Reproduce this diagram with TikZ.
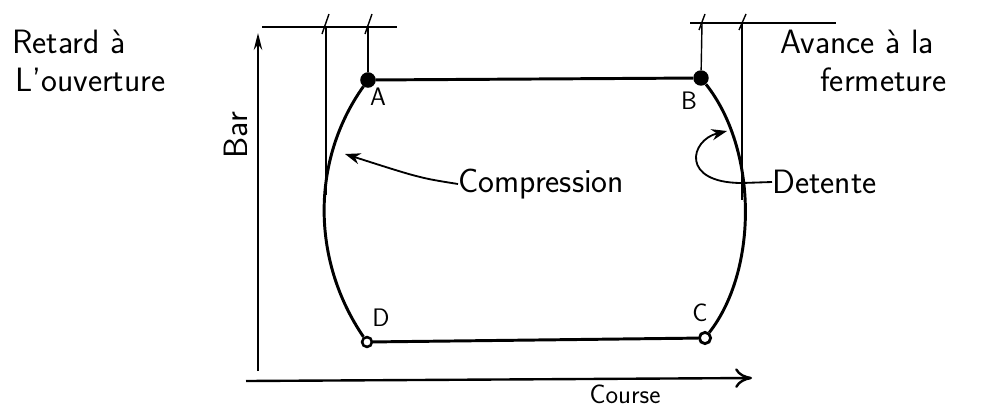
\documentclass[tikz,border=0pt]{standalone}
\usepackage{amsmath, amssymb}
\usepackage{tikz}
\usetikzlibrary{arrows.meta}

\tikzset{
  cycleline/.style={line width=2.1pt},
  guide/.style={line width=1pt},
  axisline/.style={line width=1.7pt},
  hand/.style={font=\sffamily\fontsize{24}{26}\selectfont, inner sep=0pt},
  ptlabel/.style={font=\sffamily\fontsize{18}{20}\selectfont, inner sep=0pt},
  tick/.style={line width=1pt}
}

\begin{document}
\begin{tikzpicture}[x=0.025cm, y=-0.025cm]
\useasboundingbox (0,0) rectangle (992,409);

% axes
\coordinate (O) at (258,380);
\coordinate (yend) at (258,33);
\coordinate (xstart) at (246,381);
\coordinate (xend) at (752,378);
\draw[axisline, -{Stealth[length=12pt, width=6pt]}] (258,371) -- (yend);
\draw[axisline, -{To[length=12pt, width=14pt]}] (xstart) -- (xend);
\node[hand, rotate=90] (bar) at (236,135) {Bar};
\node[font=\sffamily\fontsize{19}{21}\selectfont, inner sep=0pt, anchor=base] (course) at (625,403) {Course};

% cycle points
\node[circle, draw, line width=2pt, fill=black, inner sep=0pt, minimum size=9pt] (pA) at (368,80) {};
\node[circle, fill=black, inner sep=0pt, minimum size=11pt] (pB) at (701,78) {};
\node[circle, draw, line width=2pt, inner sep=0pt, minimum size=8pt] (pC) at (705,338) {};
\node[circle, draw, line width=1.8pt, inner sep=0pt, minimum size=7pt] (pD) at (367,342) {};

\node[ptlabel] (lA) at (378,97) {A};
\node[ptlabel] (lB) at (689,101) {B};
\node[ptlabel] (lC) at (700,313) {C};
\node[ptlabel] (lD) at (381,318) {D};

% cycle
\draw[cycleline] (pA) -- (pB);
\draw[cycleline] (pD) -- (pC);
\draw[cycleline] (pA) .. controls (311,160) and (311,260) .. (pD);
\draw[cycleline] (pB) .. controls (758,150) and (758,270) .. (pC);

% timing marks left
\coordinate (tl1) at (262,27);
\coordinate (tl2) at (397,27);
\coordinate (vl1) at (326,27);
\coordinate (vl2) at (368,27);
\coordinate (vl1e) at (326,195);
\draw[guide] (tl1) -- (tl2);
\draw[guide] (vl1) -- (vl1e);
\draw[guide] (vl2) -- (pA);
\draw[tick] (322,34) -- (329,14);
\draw[tick] (365,34) -- (372,14);

% timing marks right
\coordinate (tr1) at (690,23);
\coordinate (tr2) at (836,23);
\coordinate (vr1) at (702,23);
\coordinate (vr2) at (742,23);
\coordinate (vr2e) at (742,200);
\draw[guide] (tr1) -- (tr2);
\draw[guide] (vr2) -- (vr2e);
\draw[guide] (vr1) -- (pB);
\draw[tick] (699,30) -- (705,14);
\draw[tick] (739,30) -- (746,14);

% labels
\node[hand, anchor=west] (retard) at (12,42) {Retard à};
\node[hand, anchor=west] (ouv) at (15,80) {L'ouverture};
\node[hand, anchor=west] (avance) at (780,42) {Avance à la};
\node[hand, anchor=west] (ferm) at (820,80) {fermeture};

% compression and detente
\coordinate (ctip) at (345,154);
\coordinate (dtip) at (727,131);
\node[hand, anchor=west] (comp) at (458,184) {Compression};
\node[hand, anchor=west] (det) at (772,182) {Detente};
\draw[guide, line width=1.3pt, -{Stealth[length=11pt, width=8pt]}] (comp.west) .. controls (420,178) .. (ctip);
\draw[guide, line width=1.3pt, -{Stealth[length=11pt, width=8pt]}] (det.west) -- (742,183)
  .. controls (680,183) and (690,140) .. (dtip);

\end{tikzpicture}
\end{document}
